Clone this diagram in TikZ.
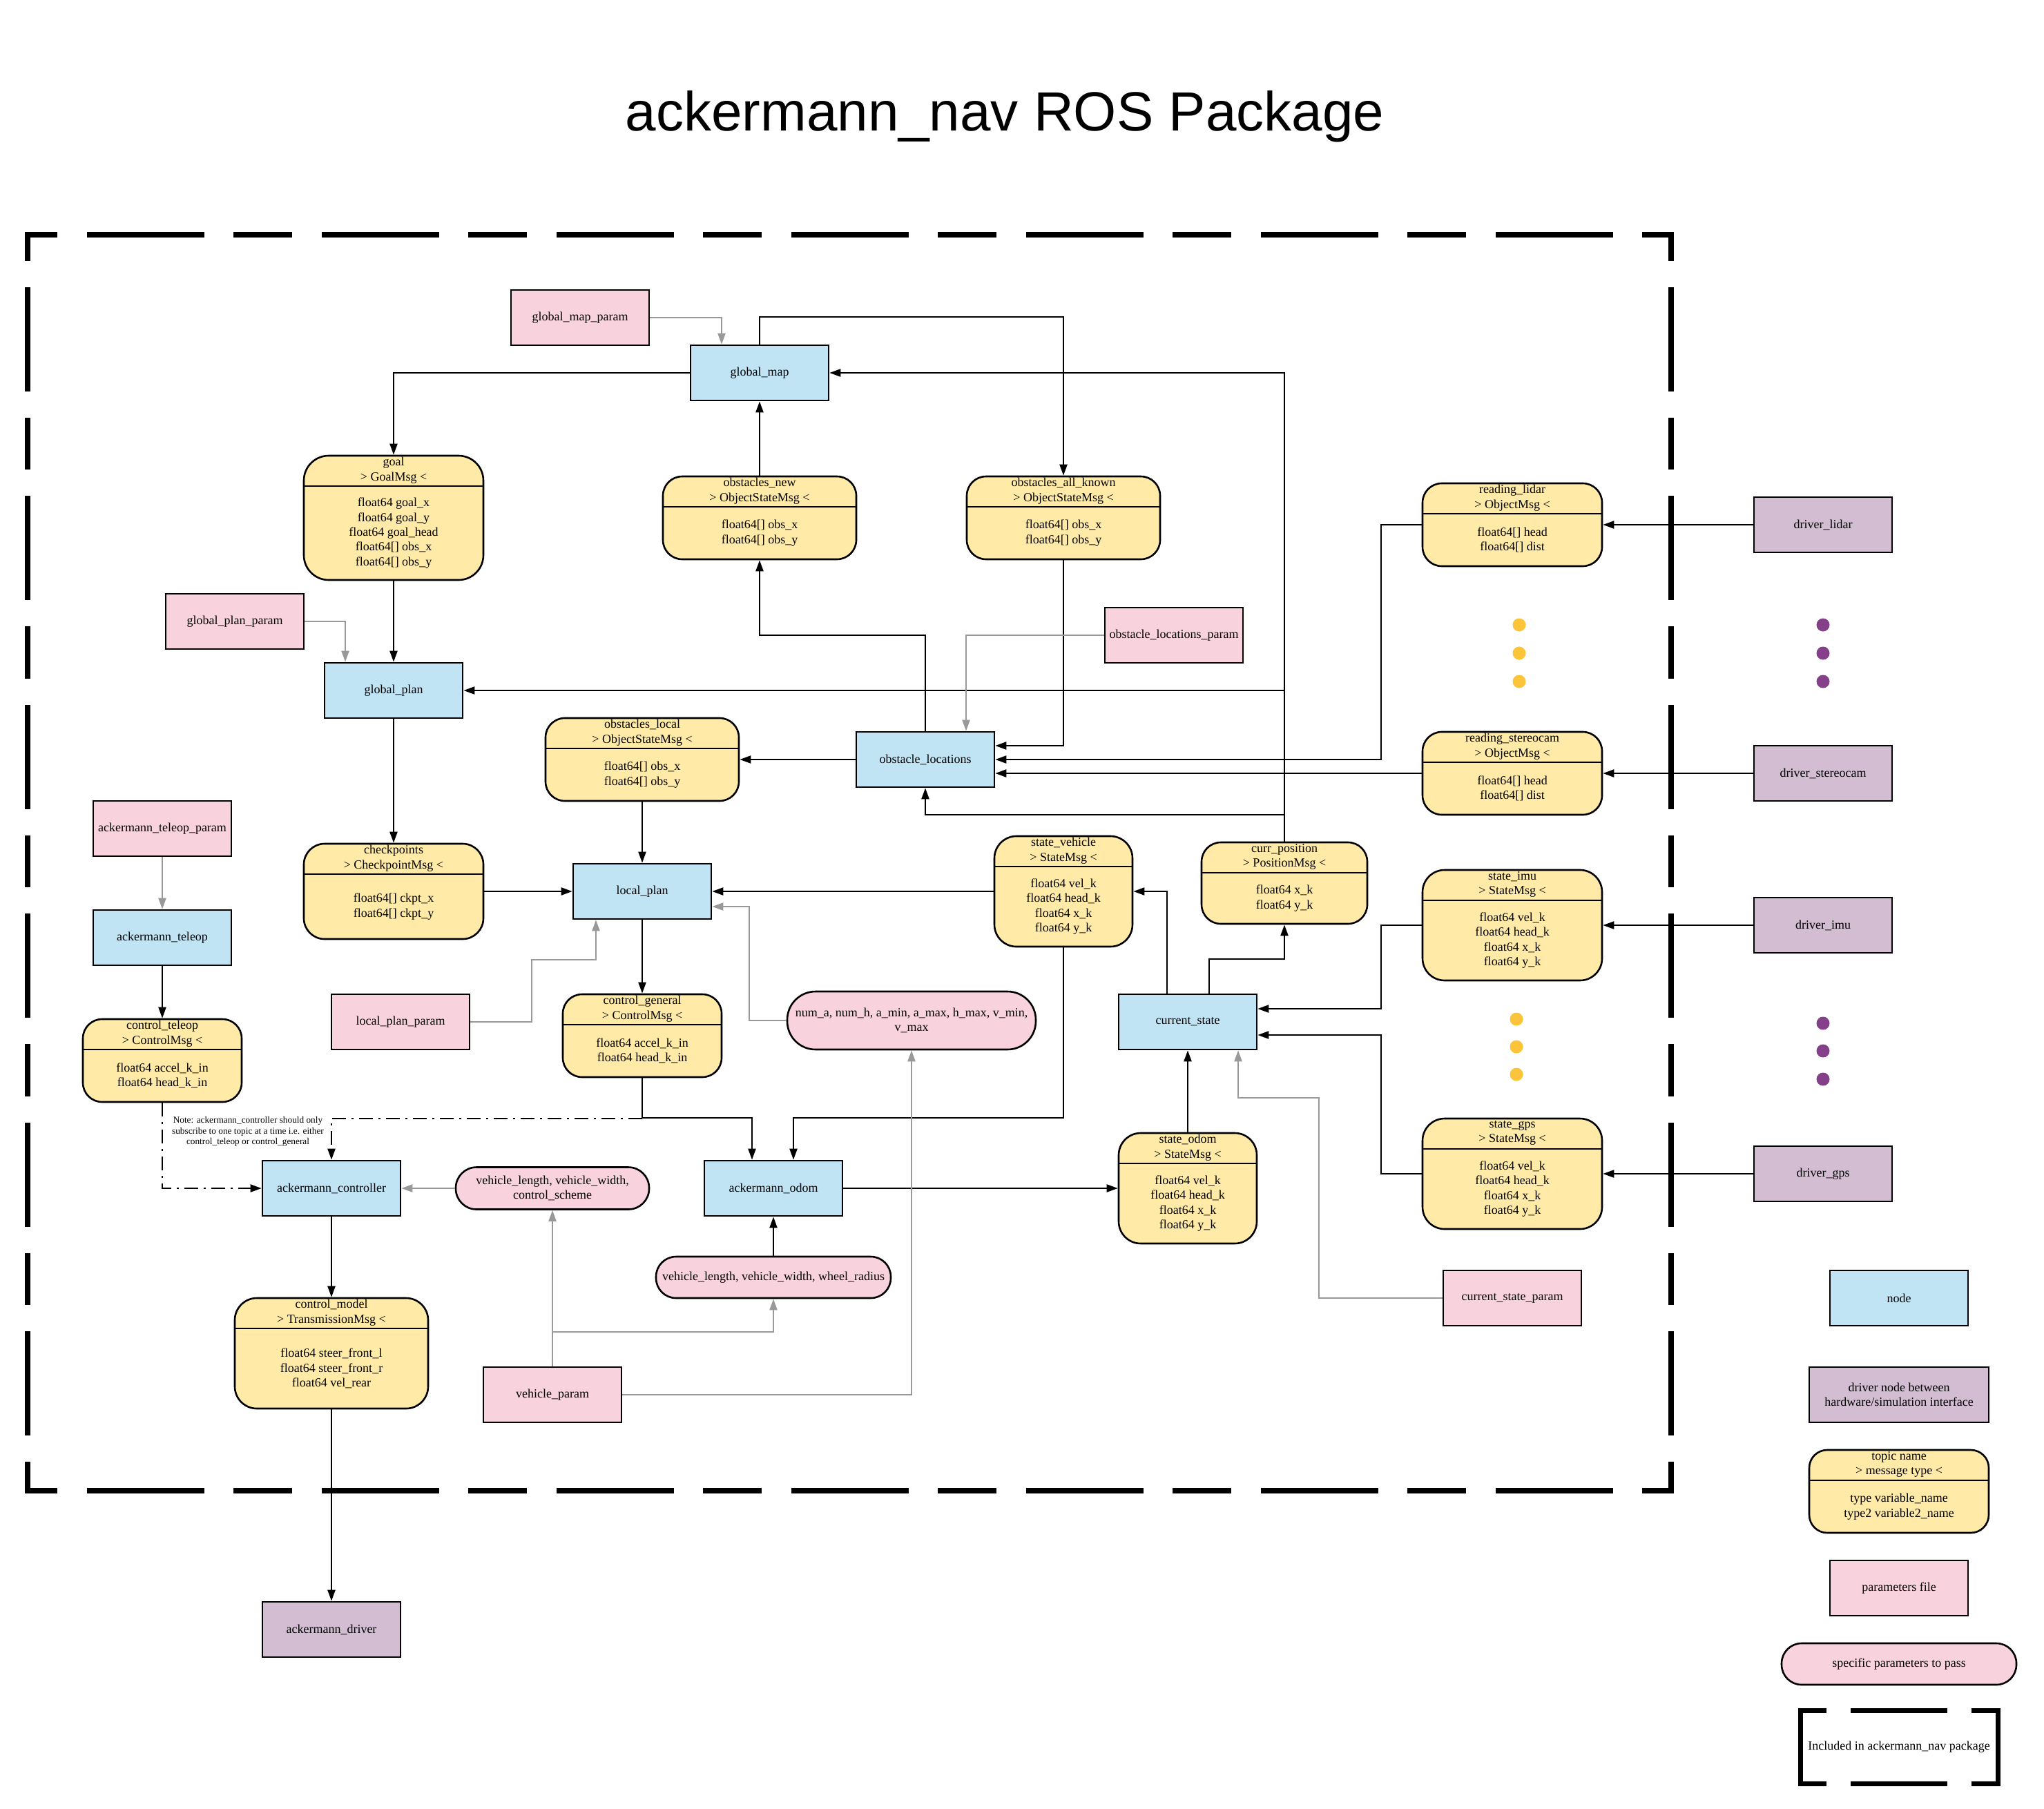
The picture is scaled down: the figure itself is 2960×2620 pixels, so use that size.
\documentclass[tikz,border=0pt]{standalone}
\usepackage{fontspec}
\setmainfont{Liberation Serif}
\newfontfamily\titlefam{Liberation Sans}
\usetikzlibrary{arrows.meta}
\definecolor{nodeblue}{RGB}{193,228,245}
\definecolor{parampink}{RGB}{248,211,222}
\definecolor{driverpurple}{RGB}{210,189,210}
\definecolor{topicyellow}{RGB}{255,235,167}
\definecolor{linegray}{RGB}{153,153,153}
\definecolor{dotyellow}{RGB}{252,196,56}
\definecolor{dotpurple}{RGB}{132,65,137}
\newcommand\nodefont{\fontsize{18}{21.4}\selectfont}
\newcommand\notefont{\fontsize{13.3}{15.8}\selectfont}
\tikzset{
 base/.style={draw, line width=2.6pt, inner sep=0pt, align=center, font=\nodefont},
 nodebox/.style={base, fill=nodeblue, minimum width=200pt, minimum height=80pt},
 parambox/.style={base, fill=parampink, minimum width=200pt, minimum height=80pt},
 driverbox/.style={base, fill=driverpurple, minimum width=200pt, minimum height=80pt},
 topicshape/.style={base, fill=topicyellow},
 pill/.style={base, fill=parampink},
 txt/.style={inner sep=0pt, align=center, font=\nodefont},
 divline/.style={line width=2.6pt},
 arr/.style={line width=2.2pt, -{Triangle[length=16pt,width=11pt]}},
 garr/.style={arr, draw=linegray, -{Triangle[length=16pt,width=11pt,fill=linegray]}},
 ddarr/.style={arr, dash pattern=on 20pt off 8pt on 3pt off 8pt},
 hside/.style={line width=8pt, dash pattern=on 85pt off 42.5pt on 170pt off 42.5pt, dash phase=37.5pt},
 vside/.style={line width=8pt, dash pattern=on 75.5pt off 38pt on 151pt off 38pt, dash phase=37.8pt},
}
% #1 name, #2 cx, #3 top, #4 w, #5 h, #6 radius, #7 header, #8 body
\newcommand\mktopic[8]{%
 \node[topicshape, minimum width=#4pt, minimum height=#5pt, rounded corners=#6pt] (#1) at (#2,{#3+#5/2}) {};
 \draw[divline] ({#2-#4/2},{#3+44}) -- ({#2+#4/2},{#3+44});
 \node[txt] (#1-head) at (#2,{#3+21}) {#7};
 \node[txt] (#1-body) at (#2,{#3+44+(#5-44)/2}) {#8};
}
\begin{document}
\begin{tikzpicture}[x=1pt,y=-1pt]
\useasboundingbox (0,0) rectangle (2960,2620);
\fill[white] (0,0) rectangle (2960,2620);

% title
\node[font=\titlefam\fontsize{80}{96}\selectfont, anchor=base, inner sep=0pt] (title) at (1455,189) {ackermann\_nav ROS Package};

% package border
\draw[hside] (35.5,340) -- (2424,340);
\draw[hside] (35.5,2159) -- (2424,2159);
\draw[vside] (39.5,340) -- (39.5,2159);
\draw[vside] (2420,340) -- (2420,2159);

% blue nodes
\node[nodebox] (gmap) at (1100,540) {global\_map};
\node[nodebox] (gplan) at (570,1000) {global\_plan};
\node[nodebox] (obsloc) at (1340,1100) {obstacle\_locations};
\node[nodebox] (lplan) at (930,1291) {local\_plan};
\node[nodebox] (atel) at (235,1358) {ackermann\_teleop};
\node[nodebox] (ctrl) at (480,1721) {ackermann\_controller};
\node[nodebox] (odom) at (1120,1721) {ackermann\_odom};
\node[nodebox] (cs) at (1720,1480) {current\_state};

% pink params
\node[parambox] (gmp) at (840,460) {global\_map\_param};
\node[parambox] (gpp) at (340,900) {global\_plan\_param};
\node[parambox] (olp) at (1700,920) {obstacle\_locations\_param};
\node[parambox] (atp) at (235,1200) {ackermann\_teleop\_param};
\node[parambox] (lpp) at (580,1480) {local\_plan\_param};
\node[parambox] (vp) at (800,2020) {vehicle\_param};
\node[parambox] (csp) at (2190,1880) {current\_state\_param};

% drivers
\node[driverbox] (dl) at (2640,760) {driver\_lidar};
\node[driverbox] (ds) at (2640,1120) {driver\_stereocam};
\node[driverbox] (di) at (2640,1340) {driver\_imu};
\node[driverbox] (dg) at (2640,1700) {driver\_gps};
\node[driverbox] (adrv) at (480,2360) {ackermann\_driver};

% topics
\mktopic{goal}{570}{660}{260}{180}{36}{goal\\> GoalMsg <}{float64 goal\_x\\float64 goal\_y\\float64 goal\_head\\float64[] obs\_x\\float64[] obs\_y}
\mktopic{obn}{1100}{690}{280}{120}{28}{obstacles\_new\\> ObjectStateMsg <}{float64[] obs\_x\\float64[] obs\_y}
\mktopic{oak}{1540}{690}{280}{120}{28}{obstacles\_all\_known\\> ObjectStateMsg <}{float64[] obs\_x\\float64[] obs\_y}
\mktopic{rl}{2190}{700}{260}{120}{28}{reading\_lidar\\> ObjectMsg <}{float64[] head\\float64[] dist}
\mktopic{rs}{2190}{1060}{260}{120}{28}{reading\_stereocam\\> ObjectMsg <}{float64[] head\\float64[] dist}
\mktopic{obl}{930}{1040}{280}{120}{28}{obstacles\_local\\> ObjectStateMsg <}{float64[] obs\_x\\float64[] obs\_y}
\mktopic{ckpt}{570}{1222}{260}{138}{30}{checkpoints\\> CheckpointMsg <}{float64[] ckpt\_x\\float64[] ckpt\_y}
\mktopic{sv}{1540}{1211}{200}{160}{32}{state\_vehicle\\> StateMsg <}{float64 vel\_k\\float64 head\_k\\float64 x\_k\\float64 y\_k}
\mktopic{cp}{1860}{1220}{240}{118}{28}{curr\_position\\> PositionMsg <}{float64 x\_k\\float64 y\_k}
\mktopic{si}{2190}{1260}{260}{160}{32}{state\_imu\\> StateMsg <}{float64 vel\_k\\float64 head\_k\\float64 x\_k\\float64 y\_k}
\mktopic{sg}{2190}{1620}{260}{160}{32}{state\_gps\\> StateMsg <}{float64 vel\_k\\float64 head\_k\\float64 x\_k\\float64 y\_k}
\mktopic{ct}{235}{1476}{230}{120}{28}{control\_teleop\\> ControlMsg <}{float64 accel\_k\_in\\float64 head\_k\_in}
\mktopic{cg}{930}{1440}{230}{120}{28}{control\_general\\> ControlMsg <}{float64 accel\_k\_in\\float64 head\_k\_in}
\mktopic{so}{1720}{1641}{200}{160}{32}{state\_odom\\> StateMsg <}{float64 vel\_k\\float64 head\_k\\float64 x\_k\\float64 y\_k}
\mktopic{cm}{480}{1880}{280}{160}{32}{control\_model\\> TransmissionMsg <}{float64 steer\_front\_l\\float64 steer\_front\_r\\float64 vel\_rear}

% pills
\node[pill, minimum width=280pt, minimum height=61pt, rounded corners=30pt] (cpar) at (800,1721) {vehicle\_length, vehicle\_width,\\control\_scheme};
\node[pill, minimum width=360pt, minimum height=84pt, rounded corners=41pt] (pp) at (1320,1478) {num\_a, num\_h, a\_min, a\_max, h\_max, v\_min,\\v\_max};
\node[pill, minimum width=340pt, minimum height=60pt, rounded corners=29pt] (op) at (1120,1850) {vehicle\_length, vehicle\_width, wheel\_radius};

% note
\node[inner sep=0pt, align=center, font=\notefont] (note) at (359,1639) {Note: ackermann\_controller should only\\subscribe to one topic at a time i.e. either\\control\_teleop or control\_general};

% dots
\foreach \yy in {905,946,987} {
 \fill[dotyellow] (2200,\yy) circle[radius=9.5pt];
 \fill[dotpurple] (2640,\yy) circle[radius=9.5pt];
}
\foreach \yy in {1476,1516,1556} \fill[dotyellow] (2196,\yy) circle[radius=9.5pt];
\foreach \yy in {1482,1522,1563} \fill[dotpurple] (2640,\yy) circle[radius=9.5pt];

% black connectors
\draw[arr] (gmap.west) -| (goal.north);
\draw[arr] (gmap.north) |- (1540,459) -- (oak.north);
\draw[arr] (obn.north) -- (gmap.south);
\draw[arr] (obsloc.north) |- (1100,920) -- (obn.south);
\draw[arr] (oak.south) |- ([yshift=20pt]obsloc.east);
\draw[arr] (rl.west) -| (2000,1100) -- (obsloc.east);
\draw[arr] (rs.west) -- ([yshift=-20pt]obsloc.east);
\draw[arr] (obsloc.west) -- (obl.east);
\draw[arr] (cp.north) |- (gmap.east);
\draw[arr] (cp.north) |- (gplan.east);
\draw[arr] (cp.north) -- (1860,1180) -| (obsloc.south);
\draw[arr] (goal.south) -- (gplan.north);
\draw[arr] (gplan.south) -- (ckpt.north);
\draw[arr] (ckpt.east) -- (lplan.west);
\draw[arr] (obl.south) -- (lplan.north);
\draw[arr] (sv.west) -- (lplan.east);
\draw[arr] (lplan.south) -- (cg.north);
\draw[ddarr] ([yshift=-59pt]cg.south) -| (ctrl.north);
\draw[ddarr] (ct.south) |- (ctrl.west);
\draw[arr] (cg.south) |- (1089,1619) -- ([xshift=-31pt]odom.north);
\draw[arr] (sv.south) |- (1149,1619) -- ([xshift=29pt]odom.north);
\draw[arr] (ctrl.south) -- (cm.north);
\draw[arr] (cm.south) -- (adrv.north);
\draw[arr] (odom.east) -- (so.west);
\draw[arr] (so.north) -- (cs.south);
\draw[arr] ([xshift=-30pt]cs.north) |- (sv.east);
\draw[arr] ([xshift=31pt]cs.north) |- (1860,1389) -- (cp.south);
\draw[arr] (si.west) -| (2000,1461) -- ([yshift=19pt]cs.east);
\draw[arr] (sg.west) -| (2000,1499) -- ([yshift=-19pt]cs.east);
\draw[arr] (dl.west) -- (rl.east);
\draw[arr] (ds.west) -- (rs.east);
\draw[arr] (di.west) -- (si.east);
\draw[arr] (dg.west) -- (sg.east);
\draw[arr] (op.north) -- (odom.south);

% gray connectors
\draw[garr] (gmp.east) -| ([xshift=-55pt]gmap.north);
\draw[garr] (gpp.east) -| ([xshift=-70pt]gplan.north);
\draw[garr] (olp.west) -| ([xshift=59pt]obsloc.north);
\draw[garr] (atp.south) -- (atel.north);
\draw[arr] (atel.south) -- (ct.north);
\draw[garr] (lpp.east) -| (770,1390) -| ([xshift=-67pt]lplan.south);
\draw[garr] (pp.west) -| (1085,1313) -- ([yshift=-22pt]lplan.east);
\draw[garr] (cpar.west) -- (ctrl.east);
\draw[garr] (vp.north) -- (cpar.south);
\draw[garr] ([yshift=50pt]vp.north) -| (op.south);
\draw[garr] (vp.east) -| (pp.south);
\draw[garr] (csp.west) -| (1910,1590) -| ([xshift=73pt]cs.south);

% legend
\node[nodebox] (lgnode) at (2750,1880) {node};
\node[driverbox, minimum width=260pt] (lgdrv) at (2750,2020) {driver node between\\hardware/simulation interface};
\mktopic{lgtopic}{2750}{2100}{260}{120}{26}{topic name\\> message type <}{type variable\_name\\type2 variable2\_name}
\node[parambox] (lgpar) at (2750,2300) {parameters file};
\node[pill, minimum width=340pt, minimum height=60pt, rounded corners=29pt] (lgpill) at (2750,2410) {specific parameters to pass};
\draw[line width=7pt, line join=miter] (2645,2477) -- (2607,2477) -- (2607,2583) -- (2645,2583);
\draw[line width=7pt, line join=miter] (2855,2477) -- (2893,2477) -- (2893,2583) -- (2855,2583);
\draw[line width=7pt] (2680,2477) -- (2820,2477);
\draw[line width=7pt] (2680,2583) -- (2820,2583);
\node[txt] (lginc) at (2750,2530) {Included in ackermann\_nav package};
\end{tikzpicture}
\end{document}
